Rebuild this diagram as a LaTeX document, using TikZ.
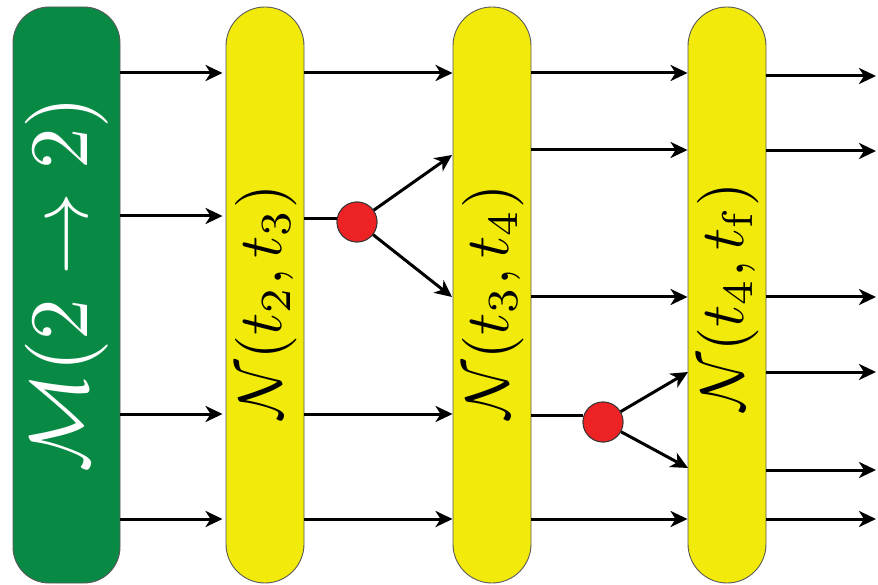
\documentclass[tikz,border=0pt]{standalone}
\usepackage{graphicx}
\usetikzlibrary{arrows.meta}
\definecolor{mgreen}{RGB}{8,138,68}
\definecolor{nyellow}{RGB}{242,234,10}
\definecolor{vred}{RGB}{236,34,36}
\begin{document}
\begin{tikzpicture}[x=1pt,y=-1pt,
  flow/.style={line width=3pt,-{Stealth[length=17pt,width=16pt,inset=5pt]}},
  plain/.style={line width=3pt},
  pillbox/.style={draw=black!65,line width=0.9pt,fill=nyellow,minimum width=78pt,minimum height=576pt,rounded corners=39pt,inner sep=0pt},
  mbox/.style={draw=black!65,line width=0.9pt,fill=mgreen,minimum width=107pt,minimum height=576pt,rounded corners=36pt,inner sep=0pt},
  vertex/.style={circle,draw=black!80,line width=0.9pt,fill=vred,minimum size=40pt,inner sep=0pt},
  ylabel/.style={rotate=90,inner sep=0pt},
  mlabel/.style={rotate=90,text=white,inner sep=0pt}]
\useasboundingbox (0,0) rectangle (878,585);
\node[mbox] (M) at (66.5,295) {};
\node[pillbox] (N1) at (265,295) {};
\node[pillbox] (N2) at (492,295) {};
\node[pillbox] (N3) at (727,295) {};
\node[mlabel] (ML) at (67,284) {\scalebox{8.3}{$\mathcal{M}(2\to2)$}};
\node[ylabel] (L1) at (266,302) {\scalebox{6.15}{$\mathcal{N}(t_2,t_3)$}};
\node[ylabel] (L2) at (493,302) {\scalebox{6.15}{$\mathcal{N}(t_3,t_4)$}};
\node[ylabel] (L3) at (728,297) {\scalebox{6.15}{$\mathcal{N}(t_4,t_{\mathrm{f}})$}};
% y levels
\coordinate (a) at (0,73);
\coordinate (b) at (0,216);
\coordinate (b2) at (0,219);
\coordinate (c) at (0,414);
\coordinate (c2) at (0,415);
\coordinate (d) at (0,519);
\coordinate (e) at (0,150);
\coordinate (f) at (0,297);
\coordinate (e3) at (0,76);
\coordinate (f3) at (0,151);
\coordinate (g) at (0,372);
\coordinate (h) at (0,470);
\coordinate (u1) at (452,155);
\coordinate (l1) at (452,297);
\coordinate (u2) at (688,372);
\coordinate (l2) at (688,468);
\coordinate (o1) at (876,0);
% from M
\draw[flow] (M.east |- a) -- ([xshift=-3pt]N1.west |- a);
\draw[flow] (M.east |- b) -- ([xshift=-3pt]N1.west |- b);
\draw[flow] (M.east |- c) -- ([xshift=-3pt]N1.west |- c);
\draw[flow] (M.east |- d) -- ([xshift=-3pt]N1.west |- d);
% from N1
\node[vertex] (v1) at (357,222) {};
\draw[flow] (N1.east |- a) -- (N2.west |- a);
\draw[plain] (N1.east |- b2) -- (v1.west |- b2);
\draw[flow] (N1.east |- c) -- (N2.west |- c);
\draw[flow] (N1.east |- d) -- (N2.west |- d);
\draw[flow] (v1) -- (u1);
\draw[flow] (v1) -- (l1);
\node[vertex] at (v1) {};
% from N2
\node[vertex] (v2) at (603,422) {};
\draw[flow] (N2.east |- a) -- (N3.west |- a);
\draw[flow] (N2.east |- e) -- (N3.west |- e);
\draw[flow] (N2.east |- f) -- (N3.west |- f);
\draw[plain] (N2.east |- c2) -- (v2.west |- c2);
\draw[flow] (N2.east |- d) -- (N3.west |- d);
\draw[flow] (v2) -- (u2);
\draw[flow] (v2) -- (l2);
\node[vertex] at (v2) {};
% from N3
\draw[flow] (N3.east |- e3) -- (o1 |- e3);
\draw[flow] (N3.east |- f3) -- (o1 |- f3);
\draw[flow] (N3.east |- f) -- (o1 |- f);
\draw[flow] (N3.east |- g) -- (o1 |- g);
\draw[flow] (N3.east |- h) -- (o1 |- h);
\draw[flow] (N3.east |- d) -- (o1 |- d);
\end{tikzpicture}
\end{document}
